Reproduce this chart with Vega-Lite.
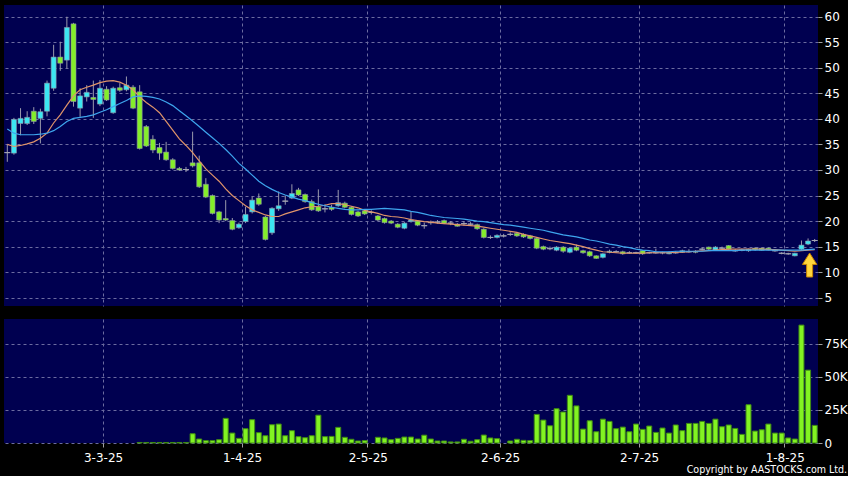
{
  "$schema": "https://vega.github.io/schema/vega-lite/v6.json",
  "background": "#000000",
  "padding": {"left": 4, "top": 5, "right": 0, "bottom": 0},
  "datasets": {
    "px": [
      {"date":"2025-02-10","open":33.4,"high":34.9,"low":31.6,"close":33.4,"volume":0,"ma10":35.0,"ma20":38.0},
      {"date":"2025-02-11","open":33.3,"high":40.2,"low":33.0,"close":39.9,"volume":0,"ma10":34.6,"ma20":37.2},
      {"date":"2025-02-12","open":39.1,"high":42.1,"low":36.8,"close":40.1,"volume":0,"ma10":34.8,"ma20":36.9},
      {"date":"2025-02-13","open":39.1,"high":41.5,"low":38.8,"close":40.3,"volume":0,"ma10":35.1,"ma20":36.9},
      {"date":"2025-02-14","open":41.5,"high":42.3,"low":39.0,"close":39.5,"volume":0,"ma10":35.5,"ma20":36.9},
      {"date":"2025-02-17","open":40.1,"high":42.0,"low":35.2,"close":41.4,"volume":0,"ma10":36.2,"ma20":37.0},
      {"date":"2025-02-18","open":41.5,"high":47.5,"low":40.5,"close":47.0,"volume":0,"ma10":37.2,"ma20":37.2},
      {"date":"2025-02-19","open":46.0,"high":54.5,"low":45.5,"close":52.1,"volume":0,"ma10":39.2,"ma20":37.7},
      {"date":"2025-02-20","open":52.1,"high":55.1,"low":49.4,"close":50.9,"volume":0,"ma10":40.8,"ma20":38.5},
      {"date":"2025-02-21","open":51.5,"high":60.0,"low":49.9,"close":57.9,"volume":0,"ma10":42.7,"ma20":39.5},
      {"date":"2025-02-24","open":58.6,"high":58.8,"low":42.4,"close":43.4,"volume":0,"ma10":44.5,"ma20":40.1},
      {"date":"2025-02-25","open":42.1,"high":46.0,"low":40.4,"close":44.5,"volume":0,"ma10":45.7,"ma20":40.3},
      {"date":"2025-02-26","open":44.3,"high":46.6,"low":43.4,"close":45.2,"volume":0,"ma10":46.2,"ma20":40.5},
      {"date":"2025-02-27","open":44.2,"high":47.5,"low":40.2,"close":43.8,"volume":0,"ma10":46.6,"ma20":40.8},
      {"date":"2025-02-28","open":42.9,"high":47.6,"low":42.5,"close":46.0,"volume":0,"ma10":47.1,"ma20":41.3},
      {"date":"2025-03-03","open":45.8,"high":46.4,"low":43.5,"close":43.7,"volume":0,"ma10":47.4,"ma20":41.8},
      {"date":"2025-03-04","open":41.2,"high":46.3,"low":41.0,"close":46.0,"volume":0,"ma10":47.5,"ma20":42.4},
      {"date":"2025-03-05","open":46.1,"high":47.0,"low":45.3,"close":45.6,"volume":0,"ma10":47.2,"ma20":43.0},
      {"date":"2025-03-06","open":45.7,"high":48.3,"low":45.4,"close":46.6,"volume":0,"ma10":46.6,"ma20":43.6},
      {"date":"2025-03-07","open":46.2,"high":46.6,"low":41.9,"close":42.1,"volume":0,"ma10":45.7,"ma20":44.3},
      {"date":"2025-03-10","open":45.3,"high":46.6,"low":34.0,"close":34.2,"volume":400,"ma10":44.3,"ma20":44.5},
      {"date":"2025-03-11","open":38.5,"high":38.8,"low":34.5,"close":34.7,"volume":400,"ma10":43.2,"ma20":44.4},
      {"date":"2025-03-12","open":36.0,"high":36.8,"low":33.3,"close":33.9,"volume":400,"ma10":42.3,"ma20":44.2},
      {"date":"2025-03-13","open":34.4,"high":35.3,"low":32.0,"close":33.3,"volume":400,"ma10":41.2,"ma20":43.9},
      {"date":"2025-03-14","open":33.5,"high":35.5,"low":31.8,"close":32.0,"volume":400,"ma10":39.5,"ma20":43.3},
      {"date":"2025-03-17","open":32.0,"high":32.3,"low":30.1,"close":30.3,"volume":400,"ma10":37.8,"ma20":42.6},
      {"date":"2025-03-18","open":30.3,"high":30.6,"low":29.8,"close":30.0,"volume":400,"ma10":36.1,"ma20":41.6},
      {"date":"2025-03-19","open":30.1,"high":30.6,"low":29.6,"close":30.1,"volume":400,"ma10":34.8,"ma20":40.6},
      {"date":"2025-03-20","open":31.4,"high":37.5,"low":30.5,"close":30.8,"volume":7000,"ma10":33.4,"ma20":39.6},
      {"date":"2025-03-21","open":31.4,"high":32.8,"low":26.5,"close":26.7,"volume":3000,"ma10":31.8,"ma20":38.5},
      {"date":"2025-03-24","open":27.2,"high":28.4,"low":24.5,"close":24.7,"volume":1800,"ma10":30.2,"ma20":37.4},
      {"date":"2025-03-25","open":25.0,"high":25.2,"low":21.3,"close":21.5,"volume":1800,"ma10":29.0,"ma20":36.3},
      {"date":"2025-03-26","open":21.8,"high":22.0,"low":19.6,"close":20.2,"volume":2500,"ma10":27.8,"ma20":35.2},
      {"date":"2025-03-27","open":20.5,"high":24.1,"low":20.0,"close":20.2,"volume":18600,"ma10":26.3,"ma20":34.0},
      {"date":"2025-03-28","open":20.1,"high":20.6,"low":18.2,"close":18.4,"volume":7500,"ma10":25.0,"ma20":32.7},
      {"date":"2025-03-31","open":18.7,"high":19.7,"low":18.5,"close":19.4,"volume":3500,"ma10":24.0,"ma20":31.3},
      {"date":"2025-04-01","open":19.9,"high":22.8,"low":19.6,"close":21.3,"volume":10800,"ma10":23.0,"ma20":30.2},
      {"date":"2025-04-02","open":21.8,"high":24.8,"low":21.5,"close":24.1,"volume":17600,"ma10":22.2,"ma20":29.0},
      {"date":"2025-04-03","open":24.5,"high":25.4,"low":23.0,"close":23.3,"volume":7800,"ma10":21.7,"ma20":27.8},
      {"date":"2025-04-07","open":20.8,"high":21.0,"low":16.2,"close":16.4,"volume":5500,"ma10":21.2,"ma20":26.9},
      {"date":"2025-04-08","open":17.7,"high":22.7,"low":17.3,"close":22.5,"volume":13800,"ma10":20.9,"ma20":26.2},
      {"date":"2025-04-09","open":22.4,"high":25.8,"low":22.0,"close":23.0,"volume":14300,"ma10":20.9,"ma20":25.6},
      {"date":"2025-04-10","open":23.9,"high":25.0,"low":23.2,"close":23.9,"volume":5500,"ma10":21.4,"ma20":25.1},
      {"date":"2025-04-11","open":24.5,"high":27.2,"low":24.3,"close":25.4,"volume":9300,"ma10":21.8,"ma20":24.7},
      {"date":"2025-04-14","open":26.1,"high":26.5,"low":24.9,"close":25.1,"volume":4800,"ma10":22.2,"ma20":24.3},
      {"date":"2025-04-15","open":25.2,"high":25.4,"low":23.6,"close":23.8,"volume":4000,"ma10":22.6,"ma20":24.0},
      {"date":"2025-04-16","open":23.8,"high":24.2,"low":22.0,"close":22.2,"volume":5500,"ma10":22.8,"ma20":23.6},
      {"date":"2025-04-17","open":22.8,"high":26.2,"low":21.8,"close":22.0,"volume":21000,"ma10":22.9,"ma20":23.3},
      {"date":"2025-04-22","open":22.4,"high":23.3,"low":21.7,"close":22.4,"volume":4800,"ma10":23.1,"ma20":23.0},
      {"date":"2025-04-23","open":22.7,"high":23.2,"low":22.0,"close":22.3,"volume":5000,"ma10":23.4,"ma20":22.7},
      {"date":"2025-04-24","open":23.0,"high":26.1,"low":22.8,"close":23.6,"volume":11800,"ma10":23.4,"ma20":22.5},
      {"date":"2025-04-25","open":23.5,"high":23.8,"low":22.5,"close":22.7,"volume":4300,"ma10":23.2,"ma20":22.3},
      {"date":"2025-04-28","open":22.7,"high":22.9,"low":21.1,"close":21.3,"volume":2800,"ma10":22.9,"ma20":22.2},
      {"date":"2025-04-29","open":21.8,"high":22.0,"low":20.8,"close":21.0,"volume":1500,"ma10":22.6,"ma20":22.2},
      {"date":"2025-04-30","open":22.0,"high":22.2,"low":21.2,"close":21.4,"volume":1800,"ma10":22.1,"ma20":22.3},
      {"date":"2025-05-02","open":21.7,"high":22.1,"low":21.3,"close":21.7,"volume":0,"ma10":21.8,"ma20":22.3},
      {"date":"2025-05-06","open":21.0,"high":21.2,"low":20.0,"close":20.2,"volume":4300,"ma10":21.5,"ma20":22.4},
      {"date":"2025-05-07","open":20.5,"high":20.7,"low":19.5,"close":19.7,"volume":3800,"ma10":21.1,"ma20":22.5},
      {"date":"2025-05-08","open":20.0,"high":20.2,"low":19.4,"close":19.6,"volume":2500,"ma10":20.9,"ma20":22.4},
      {"date":"2025-05-09","open":19.4,"high":19.6,"low":18.6,"close":18.8,"volume":3500,"ma10":20.8,"ma20":22.3},
      {"date":"2025-05-12","open":18.6,"high":19.8,"low":18.4,"close":19.6,"volume":4500,"ma10":20.6,"ma20":22.2},
      {"date":"2025-05-13","open":19.9,"high":21.8,"low":19.7,"close":20.2,"volume":4500,"ma10":20.3,"ma20":21.9},
      {"date":"2025-05-14","open":20.0,"high":20.2,"low":19.0,"close":19.2,"volume":3000,"ma10":20.1,"ma20":21.7},
      {"date":"2025-05-15","open":19.1,"high":19.7,"low":18.5,"close":19.1,"volume":5900,"ma10":19.9,"ma20":21.4},
      {"date":"2025-05-16","open":19.7,"high":20.1,"low":19.3,"close":19.7,"volume":3000,"ma10":19.8,"ma20":21.1},
      {"date":"2025-05-19","open":19.8,"high":20.2,"low":19.5,"close":19.8,"volume":1500,"ma10":19.6,"ma20":20.9},
      {"date":"2025-05-20","open":20.1,"high":20.3,"low":19.4,"close":19.6,"volume":1500,"ma10":19.5,"ma20":20.7},
      {"date":"2025-05-21","open":19.6,"high":20.0,"low":19.2,"close":19.6,"volume":800,"ma10":19.4,"ma20":20.6},
      {"date":"2025-05-22","open":19.4,"high":19.6,"low":18.9,"close":19.0,"volume":800,"ma10":19.3,"ma20":20.5},
      {"date":"2025-05-23","open":19.5,"high":20.0,"low":19.1,"close":19.5,"volume":2800,"ma10":19.2,"ma20":20.4},
      {"date":"2025-05-26","open":19.4,"high":19.8,"low":19.1,"close":19.4,"volume":1300,"ma10":19.1,"ma20":20.2},
      {"date":"2025-05-27","open":19.3,"high":19.5,"low":18.3,"close":18.5,"volume":2500,"ma10":19.0,"ma20":20.0},
      {"date":"2025-05-28","open":18.4,"high":18.6,"low":16.6,"close":16.8,"volume":6000,"ma10":18.8,"ma20":19.9},
      {"date":"2025-05-29","open":16.8,"high":17.2,"low":16.5,"close":16.8,"volume":3800,"ma10":18.6,"ma20":19.7},
      {"date":"2025-05-30","open":16.8,"high":17.4,"low":16.6,"close":17.2,"volume":3300,"ma10":18.4,"ma20":19.5},
      {"date":"2025-06-02","open":17.1,"high":17.5,"low":16.8,"close":17.1,"volume":0,"ma10":18.2,"ma20":19.3},
      {"date":"2025-06-03","open":17.4,"high":17.8,"low":17.1,"close":17.4,"volume":1500,"ma10":18.0,"ma20":19.2},
      {"date":"2025-06-04","open":17.6,"high":17.8,"low":16.9,"close":17.1,"volume":2800,"ma10":17.8,"ma20":19.0},
      {"date":"2025-06-05","open":17.4,"high":17.6,"low":16.7,"close":16.9,"volume":2000,"ma10":17.4,"ma20":18.8},
      {"date":"2025-06-06","open":17.1,"high":17.3,"low":16.4,"close":16.6,"volume":1800,"ma10":17.1,"ma20":18.6},
      {"date":"2025-06-09","open":16.6,"high":16.8,"low":14.5,"close":14.7,"volume":21600,"ma10":16.8,"ma20":18.4},
      {"date":"2025-06-10","open":15.0,"high":15.2,"low":14.3,"close":14.5,"volume":17300,"ma10":16.5,"ma20":18.2},
      {"date":"2025-06-11","open":14.6,"high":15.0,"low":14.3,"close":14.6,"volume":13000,"ma10":16.2,"ma20":17.9},
      {"date":"2025-06-12","open":14.3,"high":15.1,"low":14.1,"close":14.9,"volume":25900,"ma10":16.0,"ma20":17.6},
      {"date":"2025-06-13","open":14.9,"high":15.1,"low":13.8,"close":14.1,"volume":23400,"ma10":15.8,"ma20":17.3},
      {"date":"2025-06-16","open":13.9,"high":14.9,"low":13.7,"close":14.7,"volume":36000,"ma10":15.6,"ma20":17.1},
      {"date":"2025-06-17","open":14.9,"high":15.4,"low":14.1,"close":14.3,"volume":28000,"ma10":15.3,"ma20":16.9},
      {"date":"2025-06-18","open":14.2,"high":14.4,"low":13.6,"close":13.8,"volume":10500,"ma10":15.0,"ma20":16.6},
      {"date":"2025-06-19","open":14.0,"high":14.2,"low":13.0,"close":13.2,"volume":16800,"ma10":14.6,"ma20":16.3},
      {"date":"2025-06-20","open":13.2,"high":13.3,"low":12.6,"close":12.7,"volume":8500,"ma10":14.3,"ma20":16.1},
      {"date":"2025-06-23","open":12.9,"high":13.7,"low":12.7,"close":13.6,"volume":18000,"ma10":14.0,"ma20":15.8},
      {"date":"2025-06-24","open":13.9,"high":14.4,"low":13.7,"close":14.1,"volume":16300,"ma10":13.9,"ma20":15.5},
      {"date":"2025-06-25","open":14.0,"high":14.3,"low":13.8,"close":14.0,"volume":10800,"ma10":13.8,"ma20":15.3},
      {"date":"2025-06-26","open":14.0,"high":14.2,"low":13.4,"close":13.6,"volume":12000,"ma10":13.7,"ma20":15.0},
      {"date":"2025-06-27","open":13.8,"high":14.1,"low":13.6,"close":13.8,"volume":8500,"ma10":13.7,"ma20":14.8},
      {"date":"2025-06-30","open":13.8,"high":14.0,"low":13.6,"close":13.8,"volume":14300,"ma10":13.7,"ma20":14.5},
      {"date":"2025-07-02","open":14.2,"high":14.3,"low":13.4,"close":13.6,"volume":10300,"ma10":13.7,"ma20":14.3},
      {"date":"2025-07-03","open":13.8,"high":14.0,"low":13.6,"close":13.8,"volume":12800,"ma10":13.8,"ma20":14.2},
      {"date":"2025-07-04","open":13.8,"high":14.6,"low":13.6,"close":13.8,"volume":8000,"ma10":13.8,"ma20":14.0},
      {"date":"2025-07-07","open":13.8,"high":14.0,"low":13.5,"close":13.8,"volume":11300,"ma10":13.8,"ma20":14.0},
      {"date":"2025-07-08","open":13.6,"high":14.1,"low":13.5,"close":13.9,"volume":7500,"ma10":13.8,"ma20":14.0},
      {"date":"2025-07-09","open":13.8,"high":14.1,"low":13.6,"close":13.8,"volume":13600,"ma10":13.9,"ma20":14.1},
      {"date":"2025-07-10","open":13.9,"high":14.4,"low":13.8,"close":14.2,"volume":9300,"ma10":13.9,"ma20":14.1},
      {"date":"2025-07-11","open":14.0,"high":14.5,"low":13.8,"close":14.0,"volume":14800,"ma10":14.0,"ma20":14.1},
      {"date":"2025-07-14","open":14.0,"high":14.3,"low":13.7,"close":13.9,"volume":14800,"ma10":14.1,"ma20":14.1},
      {"date":"2025-07-15","open":14.5,"high":14.8,"low":14.3,"close":14.5,"volume":16300,"ma10":14.15,"ma20":14.1},
      {"date":"2025-07-16","open":14.9,"high":15.0,"low":14.3,"close":14.5,"volume":14800,"ma10":14.2,"ma20":14.2},
      {"date":"2025-07-17","open":14.3,"high":15.1,"low":14.2,"close":14.9,"volume":18000,"ma10":14.3,"ma20":14.2},
      {"date":"2025-07-18","open":14.7,"high":15.0,"low":14.5,"close":14.7,"volume":12300,"ma10":14.4,"ma20":14.2},
      {"date":"2025-07-21","open":15.2,"high":15.3,"low":14.4,"close":14.5,"volume":13600,"ma10":14.5,"ma20":14.2},
      {"date":"2025-07-22","open":14.2,"high":14.5,"low":14.0,"close":14.2,"volume":11000,"ma10":14.5,"ma20":14.2},
      {"date":"2025-07-23","open":14.3,"high":14.6,"low":14.1,"close":14.3,"volume":6500,"ma10":14.5,"ma20":14.3},
      {"date":"2025-07-24","open":14.2,"high":14.6,"low":14.0,"close":14.5,"volume":28900,"ma10":14.5,"ma20":14.3},
      {"date":"2025-07-25","open":14.7,"high":14.9,"low":14.2,"close":14.4,"volume":9000,"ma10":14.5,"ma20":14.3},
      {"date":"2025-07-28","open":14.7,"high":14.8,"low":14.2,"close":14.3,"volume":10000,"ma10":14.5,"ma20":14.3},
      {"date":"2025-07-29","open":14.7,"high":14.8,"low":14.3,"close":14.4,"volume":14300,"ma10":14.4,"ma20":14.3},
      {"date":"2025-07-30","open":14.2,"high":14.4,"low":14.0,"close":14.2,"volume":7500,"ma10":14.4,"ma20":14.3},
      {"date":"2025-07-31","open":13.7,"high":13.9,"low":13.5,"close":13.7,"volume":7500,"ma10":14.3,"ma20":14.3},
      {"date":"2025-08-01","open":13.6,"high":13.8,"low":13.4,"close":13.6,"volume":3800,"ma10":14.2,"ma20":14.3},
      {"date":"2025-08-04","open":13.2,"high":13.8,"low":13.1,"close":13.7,"volume":3000,"ma10":14.1,"ma20":14.3},
      {"date":"2025-08-05","open":14.5,"high":16.2,"low":14.3,"close":15.3,"volume":89000,"ma10":14.2,"ma20":14.3},
      {"date":"2025-08-06","open":15.5,"high":16.6,"low":15.3,"close":16.1,"volume":55000,"ma10":14.3,"ma20":14.4},
      {"date":"2025-08-07","open":16.2,"high":16.5,"low":15.9,"close":16.2,"volume":13300,"ma10":14.4,"ma20":14.5}
    ],
    "marker": [{"date": "2025-08-06", "price": 11.4}]
  },
  "title": {
    "text": "Copyright by AASTOCKS.com Ltd.",
    "orient": "bottom",
    "anchor": "end",
    "font": "DejaVu Sans Condensed",
    "fontSize": 10.6,
    "fontWeight": "normal",
    "color": "#ffffff",
    "offset": 2
  },
  "spacing": 13,
  "vconcat": [
    {
      "width": 814,
      "height": 301,
      "data": {"name": "px"},
      "encoding": {
        "x": {
          "field": "date", "type": "ordinal", "title": null,
          "scale": {"type": "band", "paddingInner": 0, "paddingOuter": 0},
          "axis": {
            "values": ["2025-03-03","2025-04-01","2025-05-02","2025-06-02","2025-07-02","2025-08-01"],
            "bandPosition": 0, "labels": false, "ticks": false, "domain": false, "grid": true, "title": null
          }
        }
      },
      "layer": [
        {
          "mark": {"type": "rule", "color": "#9a9aac", "strokeWidth": 1},
          "encoding": {
            "y": {"field": "low", "type": "quantitative", "title": null,
                  "scale": {"domain": [3.38, 62.29], "nice": false, "zero": false},
                  "axis": {"orient": "right", "values": [5,10,15,20,25,30,35,40,45,50,55,60], "labelOverlap": false, "grid": true, "domain": false, "title": null}},
            "y2": {"field": "high"}
          }
        },
        {
          "mark": {"type": "bar", "width": 5, "stroke": "#8f96a8", "strokeWidth": 0.6},
          "encoding": {
            "y": {"field": "open", "type": "quantitative", "title": null, "scale": {"domain": [3.38, 62.29], "nice": false, "zero": false},
                  "axis": {"orient": "right", "values": [5,10,15,20,25,30,35,40,45,50,55,60], "labelOverlap": false, "grid": true, "domain": false, "title": null}},
            "y2": {"field": "close"},
            "color": {
              "condition": [
                {"test": "datum.close > datum.open", "value": "#3ce6f2"},
                {"test": "datum.close < datum.open", "value": "#84ee2a"}
              ],
              "value": "#a0a0a8"
            }
          }
        },
        {
          "transform": [{"filter": "datum.open == datum.close"}],
          "mark": {"type": "tick", "color": "#a8a8b4", "thickness": 1, "size": 6, "opacity": 1},
          "encoding": {
            "y": {"field": "close", "type": "quantitative", "title": null, "scale": {"domain": [3.38, 62.29], "nice": false, "zero": false},
                  "axis": {"orient": "right", "values": [5,10,15,20,25,30,35,40,45,50,55,60], "labelOverlap": false, "grid": true, "domain": false, "title": null}}
          }
        },
        {
          "mark": {"type": "line", "color": "#e0946a", "strokeWidth": 1.2},
          "encoding": {
            "y": {"field": "ma10", "type": "quantitative", "title": null, "scale": {"domain": [3.38, 62.29], "nice": false, "zero": false},
                  "axis": {"orient": "right", "values": [5,10,15,20,25,30,35,40,45,50,55,60], "labelOverlap": false, "grid": true, "domain": false, "title": null}}
          }
        },
        {
          "mark": {"type": "line", "color": "#3ea6ee", "strokeWidth": 1.2},
          "encoding": {
            "y": {"field": "ma20", "type": "quantitative", "title": null, "scale": {"domain": [3.38, 62.29], "nice": false, "zero": false},
                  "axis": {"orient": "right", "values": [5,10,15,20,25,30,35,40,45,50,55,60], "labelOverlap": false, "grid": true, "domain": false, "title": null}}
          }
        },
        {
          "data": {"name": "marker"},
          "mark": {"type": "point", "shape": "M0.13,-1 L0.73,-0.05 L0.38,-0.05 L0.38,1 L-0.12,1 L-0.12,-0.05 L-0.47,-0.05 Z", "filled": true, "fill": "#ffd63c", "stroke": "#c88400", "strokeWidth": 1, "size": 576, "opacity": 1},
          "encoding": {
            "y": {"field": "price", "type": "quantitative", "title": null, "scale": {"domain": [3.38, 62.29], "nice": false, "zero": false},
                  "axis": {"orient": "right", "values": [5,10,15,20,25,30,35,40,45,50,55,60], "labelOverlap": false, "grid": true, "domain": false, "title": null}}
          }
        }
      ]
    },
    {
      "width": 814,
      "height": 124,
      "data": {"name": "px"},
      "mark": {"type": "bar", "width": 5, "color": "#82f322", "stroke": "#3f8a14", "strokeWidth": 1},
      "encoding": {
        "x": {
          "field": "date", "type": "ordinal", "title": null,
          "scale": {"type": "band", "paddingInner": 0, "paddingOuter": 0},
          "axis": {
            "values": ["2025-03-03","2025-04-01","2025-05-02","2025-06-02","2025-07-02","2025-08-01"],
            "bandPosition": 0, "labels": true, "ticks": true, "domain": false, "grid": true, "title": null,
            "labelAngle": 0, "labelOffset": -3, "labelPadding": 5,
            "labelExpr": "utcFormat(toDate(datum.value), '%-d-%-m-%y')"
          }
        },
        "y": {
          "field": "volume", "type": "quantitative", "title": null,
          "scale": {"domain": [0, 93600], "nice": false},
          "axis": {"orient": "right", "values": [0, 25000, 50000, 75000], "labelOverlap": false, "grid": true, "domain": false, "title": null,
                   "labelExpr": "datum.value == 0 ? '0' : (datum.value / 1000) + 'K'"}
        },
        "strokeOpacity": {"condition": {"test": "datum.volume == 0", "value": 0}, "value": 1}
      }
    }
  ],
  "config": {
    "view": {"stroke": null, "fill": "#000050"},
    "axis": {
      "labelFont": "DejaVu Sans",
      "labelFontSize": 12,
      "labelColor": "#ffffff",
      "labelOverlap": false,
      "gridColor": "#6c6ca0",
      "gridDash": [3, 3],
      "gridWidth": 1,
      "tickColor": "#a0a0a0",
      "tickSize": 4,
      "labelPadding": 2
    }
  }
}
